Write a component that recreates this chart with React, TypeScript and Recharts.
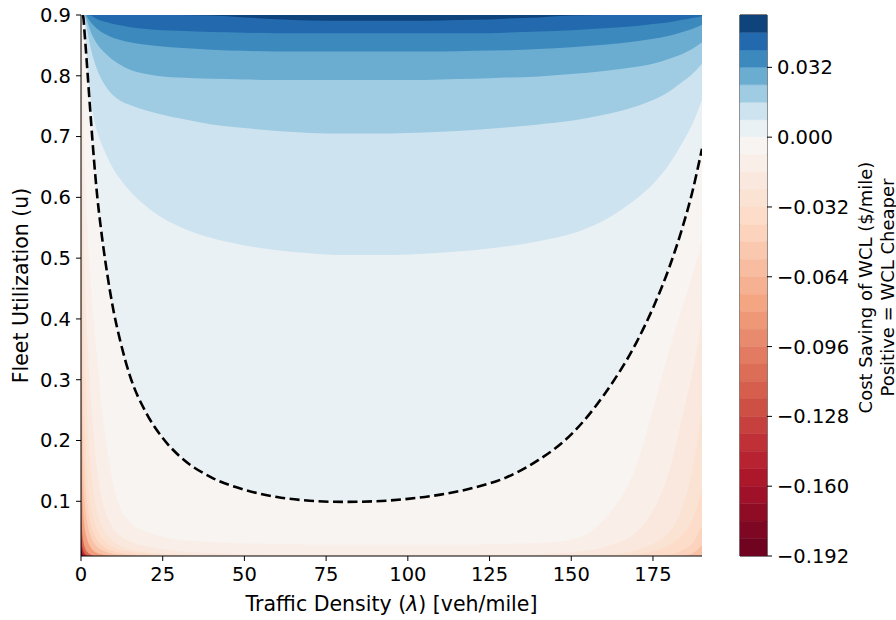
import React from 'react';
import {
  ComposedChart,
  Area,
  Line,
  XAxis,
  YAxis,
  CartesianGrid,
  BarChart,
  Bar,
  ReferenceArea,
} from 'recharts';

// traffic density grid (veh/mile) the contours are sampled on
const lambdas = [0, 0.15, 0.3, 0.5, 0.75, 1, 1.5, 2, 3, 4, 5, 6, 8, 10, 12, 15, 20, 25, 30, 40, 50, 60, 70, 80, 90, 100, 110, 120, 130, 140, 150, 160, 170, 175, 180, 184, 187, 190];

// fleet utilization where the saving crosses each level, one value per lambda
const uM160 = [0.025, 0.02, 0.016, 0.013, 0.011, 0.01, 0.01, 0.01, 0.01, 0.01, 0.01, 0.01, 0.01, 0.01, 0.01, 0.01, 0.01, 0.01, 0.01, 0.01, 0.01, 0.01, 0.01, 0.01, 0.01, 0.01, 0.01, 0.01, 0.01, 0.01, 0.01, 0.01, 0.01, 0.01, 0.01, 0.01, 0.01, 0.01];
const uM128 = [0.045, 0.035, 0.028, 0.022, 0.018, 0.015, 0.012, 0.01, 0.01, 0.01, 0.01, 0.01, 0.01, 0.01, 0.01, 0.01, 0.01, 0.01, 0.01, 0.01, 0.01, 0.01, 0.01, 0.01, 0.01, 0.01, 0.01, 0.01, 0.01, 0.01, 0.01, 0.01, 0.01, 0.01, 0.01, 0.01, 0.01, 0.01];
const uM096 = [0.1, 0.07, 0.055, 0.042, 0.033, 0.027, 0.02, 0.016, 0.012, 0.01, 0.01, 0.01, 0.01, 0.01, 0.01, 0.01, 0.01, 0.01, 0.01, 0.01, 0.01, 0.01, 0.01, 0.01, 0.01, 0.01, 0.01, 0.01, 0.01, 0.01, 0.01, 0.01, 0.01, 0.01, 0.01, 0.01, 0.01, 0.01];
const uM064 = [0.45, 0.2, 0.14, 0.1, 0.075, 0.06, 0.044, 0.035, 0.024, 0.018, 0.015, 0.013, 0.011, 0.01, 0.01, 0.01, 0.01, 0.01, 0.01, 0.01, 0.01, 0.01, 0.01, 0.01, 0.01, 0.01, 0.01, 0.01, 0.01, 0.01, 0.01, 0.01, 0.01, 0.01, 0.01, 0.01, 0.01, 0.01];
const uM048 = [0.9, 0.45, 0.3, 0.2, 0.14, 0.11, 0.08, 0.062, 0.042, 0.031, 0.025, 0.021, 0.016, 0.013, 0.012, 0.011, 0.01, 0.01, 0.01, 0.01, 0.01, 0.01, 0.01, 0.01, 0.01, 0.01, 0.01, 0.01, 0.01, 0.01, 0.01, 0.01, 0.01, 0.01, 0.01, 0.01, 0.014, 0.028];
const uM040 = [0.9, 0.62, 0.42, 0.29, 0.21, 0.165, 0.12, 0.093, 0.062, 0.046, 0.036, 0.03, 0.022, 0.018, 0.015, 0.013, 0.011, 0.01, 0.01, 0.01, 0.01, 0.01, 0.01, 0.01, 0.01, 0.01, 0.01, 0.01, 0.01, 0.01, 0.01, 0.01, 0.01, 0.01, 0.012, 0.02, 0.03, 0.06];
const uM032 = [0.9, 0.8, 0.58, 0.42, 0.31, 0.25, 0.18, 0.14, 0.092, 0.068, 0.053, 0.043, 0.031, 0.024, 0.02, 0.017, 0.014, 0.012, 0.011, 0.01, 0.01, 0.01, 0.01, 0.01, 0.01, 0.01, 0.01, 0.01, 0.01, 0.01, 0.01, 0.01, 0.013, 0.018, 0.028, 0.045, 0.07, 0.12];
const uM024 = [0.9, 0.86, 0.7, 0.55, 0.45, 0.38, 0.29, 0.23, 0.155, 0.11, 0.082, 0.065, 0.045, 0.034, 0.027, 0.021, 0.016, 0.014, 0.012, 0.011, 0.01, 0.01, 0.01, 0.01, 0.01, 0.01, 0.01, 0.01, 0.01, 0.01, 0.01, 0.012, 0.02, 0.03, 0.05, 0.09, 0.15, 0.25];
const uM016 = [0.9, 0.9, 0.8, 0.66, 0.56, 0.5, 0.42, 0.36, 0.27, 0.2, 0.15, 0.115, 0.075, 0.054, 0.043, 0.034, 0.026, 0.021, 0.018, 0.015, 0.013, 0.012, 0.012, 0.012, 0.012, 0.012, 0.012, 0.012, 0.012, 0.013, 0.016, 0.025, 0.05, 0.085, 0.15, 0.24, 0.31, 0.4];
const uM008 = [0.9, 0.9, 0.9, 0.82, 0.74, 0.68, 0.6, 0.54, 0.46, 0.39, 0.33, 0.275, 0.185, 0.125, 0.09, 0.066, 0.05, 0.042, 0.037, 0.033, 0.031, 0.03, 0.029, 0.029, 0.029, 0.029, 0.029, 0.029, 0.03, 0.031, 0.037, 0.07, 0.16, 0.25, 0.35, 0.42, 0.47, 0.53];
const uZero = [0.9, 0.9, 0.9, 0.9, 0.895, 0.877, 0.842, 0.805, 0.73, 0.66, 0.6, 0.553, 0.475, 0.412, 0.364, 0.306, 0.245, 0.204, 0.175, 0.139, 0.119, 0.107, 0.101, 0.099, 0.1, 0.104, 0.111, 0.122, 0.139, 0.168, 0.21, 0.275, 0.362, 0.418, 0.485, 0.55, 0.608, 0.68];
const uP008 = [0.9, 0.9, 0.9, 0.9, 0.9, 0.9, 0.855, 0.812, 0.76, 0.728, 0.707, 0.692, 0.667, 0.646, 0.63, 0.61, 0.585, 0.566, 0.552, 0.533, 0.521, 0.513, 0.508, 0.505, 0.505, 0.506, 0.509, 0.513, 0.519, 0.528, 0.54, 0.562, 0.598, 0.622, 0.655, 0.69, 0.72, 0.76];
const uP016 = [0.9, 0.9, 0.9, 0.9, 0.9, 0.9, 0.888, 0.872, 0.845, 0.825, 0.809, 0.797, 0.779, 0.767, 0.759, 0.752, 0.743, 0.736, 0.73, 0.72, 0.714, 0.709, 0.706, 0.705, 0.705, 0.706, 0.708, 0.711, 0.715, 0.72, 0.726, 0.736, 0.75, 0.76, 0.774, 0.79, 0.803, 0.82];
const uP024 = [0.9, 0.9, 0.9, 0.9, 0.9, 0.9, 0.895, 0.888, 0.872, 0.861, 0.852, 0.845, 0.834, 0.825, 0.818, 0.81, 0.803, 0.799, 0.797, 0.795, 0.794, 0.793, 0.793, 0.793, 0.793, 0.793, 0.794, 0.795, 0.797, 0.799, 0.803, 0.808, 0.815, 0.82, 0.828, 0.836, 0.844, 0.855];
const uP032 = [0.9, 0.9, 0.9, 0.9, 0.9, 0.9, 0.9, 0.896, 0.888, 0.882, 0.877, 0.873, 0.867, 0.862, 0.859, 0.855, 0.851, 0.848, 0.846, 0.843, 0.841, 0.84, 0.84, 0.84, 0.84, 0.84, 0.84, 0.841, 0.842, 0.844, 0.847, 0.851, 0.857, 0.861, 0.866, 0.872, 0.877, 0.884];
const uP040 = [0.9, 0.9, 0.9, 0.9, 0.9, 0.9, 0.9, 0.9, 0.899, 0.896, 0.893, 0.891, 0.888, 0.885, 0.883, 0.88, 0.877, 0.875, 0.874, 0.872, 0.871, 0.87, 0.87, 0.87, 0.87, 0.87, 0.87, 0.87, 0.871, 0.873, 0.875, 0.878, 0.882, 0.885, 0.888, 0.892, 0.895, 0.898];
const uP048 = [0.9, 0.9, 0.9, 0.9, 0.9, 0.9, 0.9, 0.9, 0.9, 0.9, 0.9, 0.9, 0.9, 0.9, 0.9, 0.9, 0.9, 0.9, 0.9, 0.899, 0.896, 0.893, 0.891, 0.8905, 0.8905, 0.8905, 0.891, 0.892, 0.894, 0.896, 0.899, 0.9, 0.9, 0.9, 0.9, 0.9, 0.9, 0.9];

// saving levels ($/mile) of the contours above, lowest first
const levels = [-0.16, -0.128, -0.096, -0.064, -0.048, -0.04, -0.032, -0.024, -0.016, -0.008, 0, 0.008, 0.016, 0.024, 0.032, 0.04, 0.048];
const contours = [uM160, uM128, uM096, uM064, uM048, uM040, uM032, uM024, uM016, uM008, uZero, uP008, uP016, uP024, uP032, uP040, uP048];

// colorbar band edges and ticks
const bandEdges = [-0.192, -0.184, -0.176, -0.168, -0.16, -0.152, -0.144, -0.136, -0.128, -0.12, -0.112, -0.104, -0.096, -0.088, -0.08, -0.072, -0.064, -0.056, -0.048, -0.04, -0.032, -0.024, -0.016, -0.008, 0, 0.008, 0.016, 0.024, 0.032, 0.04, 0.048, 0.056];
const cbTicks = [-0.192, -0.16, -0.128, -0.096, -0.064, -0.032, 0, 0.032];
const xTicks = [0, 25, 50, 75, 100, 125, 150, 175];
const yTicks = [0.1, 0.2, 0.3, 0.4, 0.5, 0.6, 0.7, 0.8, 0.9];

const VMIN = -0.192;
const VMAX = 0.056;
const U_TOP = 0.9;

// RdBu, diverging around zero (two-slope norm)
const RDBU = ['#67001f', '#b2182b', '#d6604d', '#f4a582', '#fddbc7', '#f7f7f7', '#d1e5f0', '#92c5de', '#4393c3', '#2166ac', '#053061'];

const hexToRgb = (h: string) => [1, 3, 5].map((i) => parseInt(h.slice(i, i + 2), 16));

const colorFor = (v: number) => {
  const t = v < 0 ? 0.5 * (v - VMIN) / -VMIN : 0.5 + 0.5 * v / VMAX;
  const x = Math.max(0, Math.min(1, t)) * 10;
  const i = Math.min(9, Math.floor(x));
  const f = x - i;
  const a = hexToRgb(RDBU[i]);
  const b = hexToRgb(RDBU[i + 1]);
  const c = a.map((ch, k) => Math.round(ch + (b[k] - ch) * f));
  return `rgb(${c[0]},${c[1]},${c[2]})`;
};

// fill of the region above a contour, up to the next drawn level
const fills = levels.map((lo, k) => colorFor((lo + (levels[k + 1] ?? VMAX)) / 2));
const baseFill = colorFor((VMIN + levels[0]) / 2);

const rows = lambdas.map((lam, i) => {
  const row: Record<string, number | null> = { lam };
  contours.forEach((c, k) => {
    row[`c${k}`] = c[i];
  });
  // break-even line, dropped where it runs along the top edge
  row.breakEven = uZero[i] >= U_TOP && (uZero[i + 1] ?? 0) >= U_TOP ? null : uZero[i];
  return row;
});

const bandKeys = bandEdges.slice(0, -1).map((_, k) => `b${k}`);
const cbRow: Record<string, number | string> = { name: 'saving' };
bandEdges.slice(0, -1).forEach((lo, k) => {
  const hi = bandEdges[k + 1];
  cbRow[`b${k}`] = lo >= 0 ? hi - lo : lo - hi;
});
// positive bands stack upward from zero, negative ones downward
const posBands = bandKeys.filter((_, k) => bandEdges[k] >= 0);
const negBands = bandKeys.filter((_, k) => bandEdges[k] < 0).reverse();

const FONT = '"DejaVu Sans", sans-serif';
const fmtCb = (v: number) => (v < 0 ? '\u2212' : '') + Math.abs(v).toFixed(3);

const YTitle = ({ viewBox }: any) => {
  const x = viewBox.x + 21;
  const y = viewBox.y + viewBox.height / 2;
  return (
    <text x={x} y={y} transform={`rotate(-90, ${x}, ${y})`} textAnchor="middle" dominantBaseline="central" fontSize={20.5} fill="#000">
      Fleet Utilization (u)
    </text>
  );
};

const XTitle = ({ viewBox }: any) => {
  const x = viewBox.x + viewBox.width / 2;
  const y = viewBox.y + 48;
  return (
    <text x={x} y={y} textAnchor="middle" dominantBaseline="central" fontSize={20.5} fill="#000">
      Traffic Density (<tspan fontStyle="italic">λ</tspan>) [veh/mile]
    </text>
  );
};

const CbTitle = ({ viewBox }: any) => {
  const y = viewBox.y + viewBox.height / 2 + 2;
  const x1 = viewBox.x + 98;
  const x2 = viewBox.x + 120;
  return (
    <g fontSize={18} fill="#000">
      <text x={x1} y={y} transform={`rotate(-90, ${x1}, ${y})`} textAnchor="middle" dominantBaseline="central">
        Cost Saving of WCL ($/mile)
      </text>
      <text x={x2} y={y} transform={`rotate(-90, ${x2}, ${y})`} textAnchor="middle" dominantBaseline="central">
        Positive = WCL Cheaper
      </text>
    </g>
  );
};

const SavingContour: React.FC = () => (
  <ComposedChart width={720} height={620} data={rows} margin={{ top: 15, right: 18, bottom: 0, left: 0 }}>
    <CartesianGrid horizontal={false} vertical={false} fill={baseFill} fillOpacity={1} />
    {levels.map((lv, k) => (
      <Area
        key={`c${k}`}
        type="monotone"
        dataKey={`c${k}`}
        baseValue={U_TOP}
        stroke="none"
        fill={fills[k]}
        fillOpacity={1}
        isAnimationActive={false}
        activeDot={false}
      />
    ))}
    <Line
      type="monotone"
      dataKey="breakEven"
      stroke="#000"
      strokeWidth={2.6}
      strokeDasharray="10 4.5"
      dot={false}
      activeDot={false}
      isAnimationActive={false}
    />
    <XAxis
      dataKey="lam"
      type="number"
      domain={[0, 190]}
      ticks={xTicks}
      allowDataOverflow
      height={64}
      stroke="#000"
      tickSize={5}
      tickMargin={6}
      tick={{ fill: '#000', fontSize: 19.5 }}
      label={<XTitle />}
    />
    <YAxis
      type="number"
      domain={[0.01, U_TOP]}
      ticks={yTicks}
      allowDataOverflow
      width={81}
      stroke="#000"
      tickSize={5}
      tickMargin={5}
      tick={{ fill: '#000', fontSize: 19.5 }}
      tickFormatter={(v: number) => v.toFixed(1)}
      label={<YTitle />}
    />
    <XAxis xAxisId="top" orientation="top" type="number" domain={[0, 190]} height={0} tick={false} tickLine={false} stroke="#000" />
    <YAxis yAxisId="right" orientation="right" type="number" domain={[0.01, U_TOP]} width={0} tick={false} tickLine={false} stroke="#000" />
  </ComposedChart>
);

const SavingColorbar: React.FC = () => (
  <BarChart
    width={166}
    height={620}
    data={[cbRow]}
    margin={{ top: 15, right: 0, bottom: 64, left: 10 }}
    stackOffset="sign"
    barCategoryGap={0}
  >
    <XAxis dataKey="name" hide />
    {[...posBands, ...negBands].map((key) => {
      const k = Number(key.slice(1));
      const c = colorFor((bandEdges[k] + bandEdges[k + 1]) / 2);
      return <Bar key={key} dataKey={key} stackId="cb" fill={c} stroke={c} strokeWidth={0.4} isAnimationActive={false} />;
    })}
    <YAxis
      orientation="right"
      type="number"
      domain={[VMIN, VMAX]}
      ticks={cbTicks}
      allowDataOverflow
      width={129}
      axisLine={false}
      stroke="#000"
      tickSize={5}
      tickMargin={5}
      tick={{ fill: '#000', fontSize: 19.5 }}
      tickFormatter={fmtCb}
      label={<CbTitle />}
    />
    <ReferenceArea y1={VMIN} y2={VMAX} fill="none" stroke="#000" strokeWidth={1} ifOverflow="visible" />
  </BarChart>
);

export default function App() {
  return (
    <div style={{ position: 'absolute', left: 0, top: 0, width: 896, height: 620, background: '#fff', fontFamily: FONT }}>
      <div style={{ position: 'absolute', left: 0, top: 0 }}>
        <SavingContour />
      </div>
      <div style={{ position: 'absolute', left: 730, top: 0 }}>
        <SavingColorbar />
      </div>
    </div>
  );
}
